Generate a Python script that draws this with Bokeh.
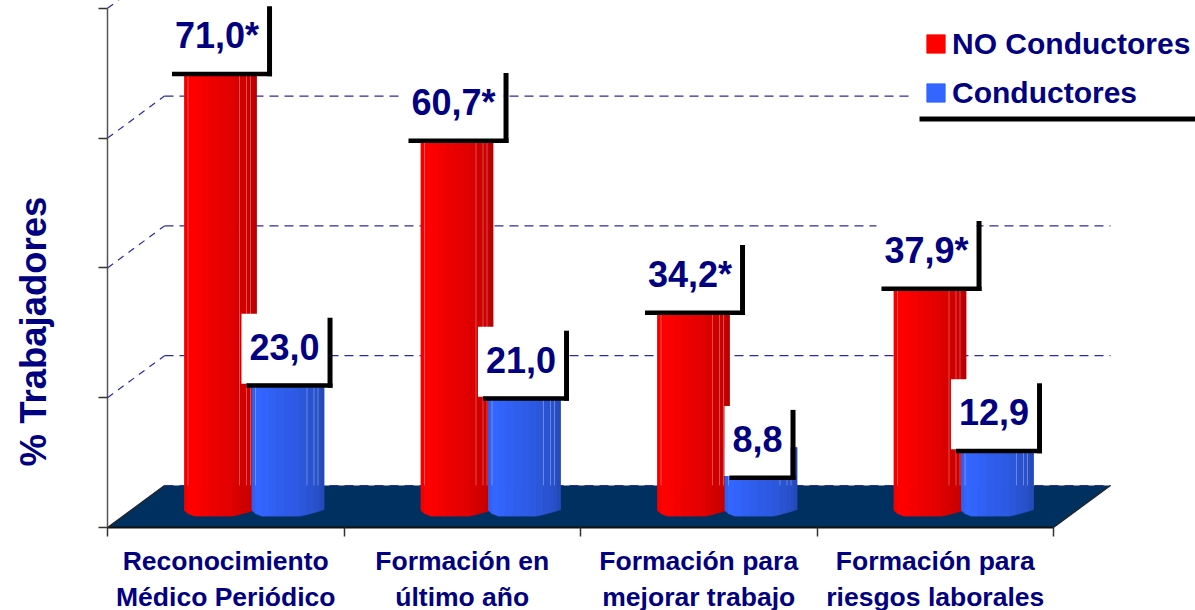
from bokeh.plotting import figure
from bokeh.models import (ColumnDataSource, Range1d, LinearAxis, FixedTicker, Legend, LegendItem)
from bokeh.core.properties import value
from bokeh.embed import file_html
from bokeh.resources import INLINE

# ---- data ----
categories = ["Reconocimiento\nMédico Periódico", "Formación en\núltimo año",
              "Formación para\nmejorar trabajo", "Formación para\nriesgos laborales"]
no_conductores = [71.0, 60.7, 34.2, 37.9]
conductores = [23.0, 21.0, 8.8, 12.9]
no_conductores_marks = ["71,0*", "60,7*", "34,2*", "37,9*"]
conductores_marks = ["23,0", "21,0", "8,8", "12,9"]
series_names = ["NO Conductores", "Conductores"]
y_ticks = [0, 20, 40, 60, 80]
y_title = "% Trabajadores"

# ---- geometry of the pseudo-3D drawing (pixels per data unit) ----
W, H = 1195, 610
LEFT, BASE = 107, 527
PX_X = 236.5      # pixels per category
PX_Y = 6.49       # pixels per percentage point
DEPTH_X, DEPTH_Y = 57, 42
FONT = "Liberation Sans"
NAVY = "#000080"

dx = lambda px: px / PX_X
dy = lambda px: px / PX_Y
xp = lambda px: (px - LEFT) / PX_X
yp = lambda px: (BASE - px) / PX_Y

p = figure(width=W, height=H, output_backend="svg", toolbar_location=None,
           x_range=Range1d(xp(0), xp(W)), y_range=Range1d(yp(H), yp(0)),
           x_axis_location=None, y_axis_location=None,
           min_border_left=0, min_border_bottom=0, min_border_top=0, min_border_right=0,
           outline_line_color=None, background_fill_color="white")
p.xgrid.visible = False
p.ygrid.visible = False

# axes
yax = LinearAxis(fixed_location=0, ticker=FixedTicker(ticks=y_ticks), bounds=(0, 80),
                 major_label_overrides={t: "" for t in y_ticks},
                 axis_line_color="#555555", axis_line_width=1.5, major_tick_line_color="#333333",
                 major_tick_line_width=1.5, major_tick_out=9, major_tick_in=0, minor_tick_out=0)
p.add_layout(yax, "left")

# the axis title is centred on its axis' bounds: a line-less companion axis places it
title_mid = yp(331)
tax = LinearAxis(fixed_location=0, ticker=FixedTicker(ticks=[]), bounds=(0, 2 * title_mid),
                 axis_line_color=None, major_tick_line_color=None, minor_tick_line_color=None,
                 axis_label=y_title, axis_label_text_font=FONT, axis_label_text_font_size="36.5px",
                 axis_label_text_font_style="bold", axis_label_text_color=NAVY,
                 axis_label_standoff=54)
p.add_layout(tax, "left")

centers = [i + 0.5 for i in range(len(categories))]
xax = LinearAxis(fixed_location=0, ticker=FixedTicker(ticks=centers, minor_ticks=list(range(len(categories) + 1))),
                 bounds=(0, len(categories)),
                 major_label_overrides=dict(zip(centers, categories)),
                 axis_line_color="#111111", axis_line_width=2, major_tick_out=0, major_tick_in=0,
                 minor_tick_out=9, minor_tick_in=0, minor_tick_line_color="#333333",
                 minor_tick_line_width=1.5, major_label_text_font=FONT,
                 major_label_text_font_size="26.5px", major_label_text_font_style="bold",
                 major_label_text_color=NAVY, major_label_text_line_height=1.2,
                 major_label_standoff=9)
p.add_layout(xax, "below")

# floor
n = len(categories)
p.patch([0, dx(DEPTH_X), n + dx(DEPTH_X), n], [0, dy(DEPTH_Y), dy(DEPTH_Y), 0],
        fill_color="#003060", line_color=None, level="underlay")
p.segment([0, n], [0, 0], [dx(DEPTH_X), n + dx(DEPTH_X)], [dy(DEPTH_Y)] * 2,
          line_color="#222222", line_width=1.2)

# dashed wall grid
grid_vals = [v for v in y_ticks]
wall = [v + dy(DEPTH_Y) for v in grid_vals]
p.segment([dx(DEPTH_X)] * len(wall), wall, [n + dx(DEPTH_X)] * len(wall), wall,
          line_color="#2a2aa8", line_width=1.2, line_dash="9 6")
p.segment([0] * len(wall[1:]), grid_vals[1:], [dx(DEPTH_X)] * len(wall[1:]), wall[1:],
          line_color="#2a2aa8", line_width=1.2, line_dash="7 6")

# cylinders made of facets
facet_edges = [0, 3.5, 10, 17, 25, 33, 41, 48, 55, 62, 66, 69, 72]
facet_shade = [.95, 1, .99, .96, .93, .91, .89, .86, .82, .80, .77, .73]
base_curve = [(0, 510), (3.5, 513), (10, 515.5), (48, 515.5), (55, 514), (62, 512), (66, 511), (72, 509)]
seam_edges = [3.5, 55, 62, 66]
BAR_TOP_LIFT = dy(23)


def base_at(px):
    for (a, ya), (b, yb) in zip(base_curve, base_curve[1:]):
        if a <= px <= b:
            return ya + (yb - ya) * (px - a) / (b - a)
    return base_curve[-1][1]


def shade(rgb, k):
    return "#%02x%02x%02x" % tuple(int(c * k) for c in rgb)


def cylinders(values, start_px, rgb):
    xs, ys, cols = [], [], []
    sy0, sy1, sx = [], [], []
    for i, v in enumerate(values):
        left = i + dx(start_px)
        top = v + BAR_TOP_LIFT
        for a, b, k in zip(facet_edges, facet_edges[1:], facet_shade):
            xs.append([left + dx(a), left + dx(b), left + dx(b), left + dx(a)])
            ys.append([top, top, yp(base_at(b)), yp(base_at(a))])
            cols.append(shade(rgb, k))
        for e in seam_edges:
            sx.append(left + dx(e))
            sy0.append(top)
            sy1.append(yp(BASE - DEPTH_Y))
    src = ColumnDataSource(dict(xs=xs, ys=ys, c=cols))
    r = p.patches("xs", "ys", source=src, fill_color="c", line_color="c", line_width=0.8)
    p.segment(sx, sy0, sx, sy1, line_color="white", line_alpha=0.3, line_width=1)
    return r


red = cylinders(no_conductores, 77, (255, 0, 0))
blue = cylinders(conductores, 144.5, (51, 102, 255))


# value labels: a white box with a heavy black rule under and to its right
def labels(values, marks, start_px):
    wl, wr, wb, wt, hl, hr, hb, ht, vl, vr, vt, tx, ty = ([] for _ in range(13))
    for i, (v, m) in enumerate(zip(values, marks)):
        c = LEFT + i * PX_X + start_px + 36
        tc = c - 3.5
        digits = sum(ch.isdigit() for ch in m)
        tw = 36 * (0.556 * digits + 0.278 + (0.389 if "*" in m else 0))
        bottom = BASE + 9.5 - v * PX_Y
        line_l, line_r = tc - tw / 2 - 3, tc + tw / 2 + 13
        wl.append(xp(line_l - 5)); wr.append(xp(line_r - 5))
        wb.append(yp(bottom - 4)); wt.append(yp(bottom - 74))
        hl.append(xp(line_l)); hr.append(xp(line_r))
        hb.append(yp(bottom)); ht.append(yp(bottom - 4.5))
        vl.append(xp(line_r - 5)); vr.append(xp(line_r)); vt.append(yp(bottom - 70))
        tx.append(xp(tc)); ty.append(yp(bottom - 41))
    p.quad(left=wl, right=wr, bottom=wb, top=wt, fill_color="white", line_color=None)
    p.quad(left=hl, right=hr, bottom=hb, top=ht, fill_color="black", line_color=None)
    p.quad(left=vl, right=vr, bottom=hb, top=vt, fill_color="black", line_color=None)
    p.text(tx, ty, text=marks, text_font=value(FONT), text_font_size="36px",
           text_font_style="bold", text_color=NAVY, text_align="center",
           text_baseline="alphabetic")


labels(no_conductores, no_conductores_marks, 77)
labels(conductores, conductores_marks, 144.5)

# legend
p.quad(left=[xp(912)], right=[xp(W)], bottom=[yp(116)], top=[yp(0)], fill_color="white", line_color=None)
legend = Legend(items=[LegendItem(label=series_names[0], renderers=[red], index=1),
                       LegendItem(label=series_names[1], renderers=[blue], index=1)],
                location=(924, H - 109.5), orientation="vertical",
                background_fill_alpha=0, border_line_color=None,
                label_text_font=FONT, label_text_font_size="30px", label_text_font_style="bold",
                label_text_color=NAVY, glyph_width=23, glyph_height=23, label_height=30,
                label_standoff=5, spacing=15, padding=0, margin=0, label_width=230)
p.add_layout(legend, "center")
p.quad(left=[xp(919)], right=[xp(W)], bottom=[yp(121)], top=[yp(116)], fill_color="black", line_color=None)

open("out.html", "w").write(file_html(p, INLINE))
